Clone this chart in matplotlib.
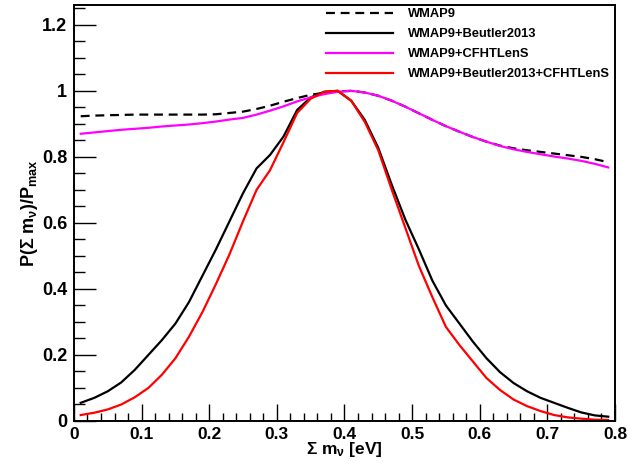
# -*- coding: utf-8 -*-
# neutrino mass posterior, ROOT-like look

import numpy as np
from matplotlib import pyplot as plt
import matplotlib
from matplotlib.ticker import MultipleLocator

matplotlib.rcParams['font.family'] = ['Liberation Sans', 'DejaVu Sans']
matplotlib.rcParams['font.weight'] = 'bold'
matplotlib.rcParams['mathtext.fontset'] = 'custom'
matplotlib.rcParams['mathtext.rm'] = 'Liberation Sans:bold'
matplotlib.rcParams['mathtext.it'] = 'Liberation Sans:bold'
matplotlib.rcParams['mathtext.bf'] = 'Liberation Sans:bold'

# sum of neutrino masses [eV]
mnu = [0.01, 0.03, 0.05, 0.07, 0.09, 0.11, 0.13, 0.15, 0.17, 0.19,
       0.21, 0.23, 0.25, 0.27, 0.29, 0.31, 0.33, 0.35, 0.37, 0.39,
       0.41, 0.43, 0.45, 0.47, 0.49, 0.51, 0.53, 0.55, 0.57, 0.59,
       0.61, 0.63, 0.65, 0.67, 0.69, 0.71, 0.73, 0.75, 0.77, 0.79]

wmap9 = [0.923, 0.925, 0.926, 0.927, 0.928, 0.928, 0.928, 0.928, 0.928, 0.928,
         0.929, 0.933, 0.937, 0.945, 0.955, 0.967, 0.978, 0.988, 0.994, 0.998,
         1.000, 0.995, 0.985, 0.970, 0.952, 0.932, 0.912, 0.893, 0.876, 0.860,
         0.846, 0.834, 0.826, 0.820, 0.815, 0.810, 0.805, 0.800, 0.793, 0.784]

wmap9_beutler = [0.055, 0.070, 0.090, 0.117, 0.155, 0.200, 0.245, 0.295, 0.360, 0.440,
                 0.520, 0.605, 0.690, 0.765, 0.806, 0.862, 0.942, 0.980, 0.997, 1.000,
                 0.970, 0.912, 0.827, 0.715, 0.610, 0.520, 0.425, 0.350, 0.295, 0.240,
                 0.190, 0.148, 0.115, 0.090, 0.070, 0.055, 0.040, 0.026, 0.017, 0.013]

wmap9_cfht = [0.870, 0.874, 0.878, 0.882, 0.885, 0.888, 0.892, 0.895, 0.898, 0.902,
              0.907, 0.913, 0.918, 0.928, 0.940, 0.953, 0.968, 0.980, 0.990, 0.997,
              1.000, 0.995, 0.985, 0.970, 0.952, 0.932, 0.912, 0.893, 0.876, 0.860,
              0.846, 0.833, 0.823, 0.815, 0.808, 0.801, 0.795, 0.788, 0.779, 0.768]

wmap9_beutler_cfht = [0.018, 0.025, 0.035, 0.050, 0.072, 0.100, 0.140, 0.190, 0.255, 0.330,
                      0.415, 0.505, 0.605, 0.700, 0.760, 0.845, 0.933, 0.976, 0.997, 1.000,
                      0.970, 0.906, 0.820, 0.700, 0.585, 0.470, 0.375, 0.285, 0.230, 0.180,
                      0.130, 0.094, 0.065, 0.045, 0.030, 0.018, 0.011, 0.007, 0.004, 0.003]

x_ticks = [0, 0.1, 0.2, 0.3, 0.4, 0.5, 0.6, 0.7, 0.8]
x_tick_labels = ['0', '0.1', '0.2', '0.3', '0.4', '0.5', '0.6', '0.7', '0.8']
y_ticks = [0, 0.2, 0.4, 0.6, 0.8, 1.0, 1.2]
y_tick_labels = ['0', '0.2', '0.4', '0.6', '0.8', '1', '1.2']


def main():
    fig = plt.figure(figsize=(6.29, 4.66), dpi=100)
    ax = fig.add_axes([0.1176, 0.0966, 0.8601, 0.8927])

    ax.plot(mnu, wmap9, color='black', lw=1.6, ls=(0, (4, 2.6)), label='WMAP9')
    ax.plot(mnu, wmap9_beutler, color='black', lw=1.6, label='WMAP9+Beutler2013')
    ax.plot(mnu, wmap9_cfht, color='#ff00ff', lw=1.6, label='WMAP9+CFHTLenS')
    ax.plot(mnu, wmap9_beutler_cfht, color='#ff0000', lw=1.6,
            label='WMAP9+Beutler2013+CFHTLenS')

    ax.set_xlim(0, 0.8)
    ax.set_ylim(0, 1.26)

    # ROOT style ticks: inside, only left and bottom
    ax.set_xticks(x_ticks)
    ax.set_xticklabels(x_tick_labels, fontsize=12.5, fontweight='bold')
    ax.set_yticks(y_ticks)
    ax.set_yticklabels(y_tick_labels, fontsize=13, fontweight='bold')
    ax.xaxis.set_minor_locator(MultipleLocator(0.02))
    ax.yaxis.set_minor_locator(MultipleLocator(0.05))
    ax.tick_params(which='both', direction='in', top=False, right=False, width=1.0)
    ax.tick_params(axis='x', which='major', length=12, pad=4)
    ax.tick_params(axis='x', which='minor', length=6)
    ax.tick_params(axis='y', which='major', length=16, pad=5)
    ax.tick_params(axis='y', which='minor', length=8)
    for sp in ax.spines.values():
        sp.set_linewidth(1.4)

    ax.set_xlabel(r'$\Sigma$ m$_{\nu}$ [eV]', fontsize=12.5, fontweight='bold', labelpad=-1)
    ax.set_ylabel(r'P($\Sigma$ m$_{\nu}$)/P$_{\rm max}$', fontsize=13,
                  fontweight='bold', labelpad=1)

    leg = ax.legend(loc='upper left', bbox_to_anchor=(0.456, 1.004), frameon=False,
                    fontsize=9.25, handlelength=5.2, handletextpad=1.17,
                    labelspacing=0.62, borderaxespad=0)
    for t in leg.get_texts():
        t.set_fontweight('bold')

    plt.savefig('out.png', dpi=100)


if __name__ == "__main__":
    main()
